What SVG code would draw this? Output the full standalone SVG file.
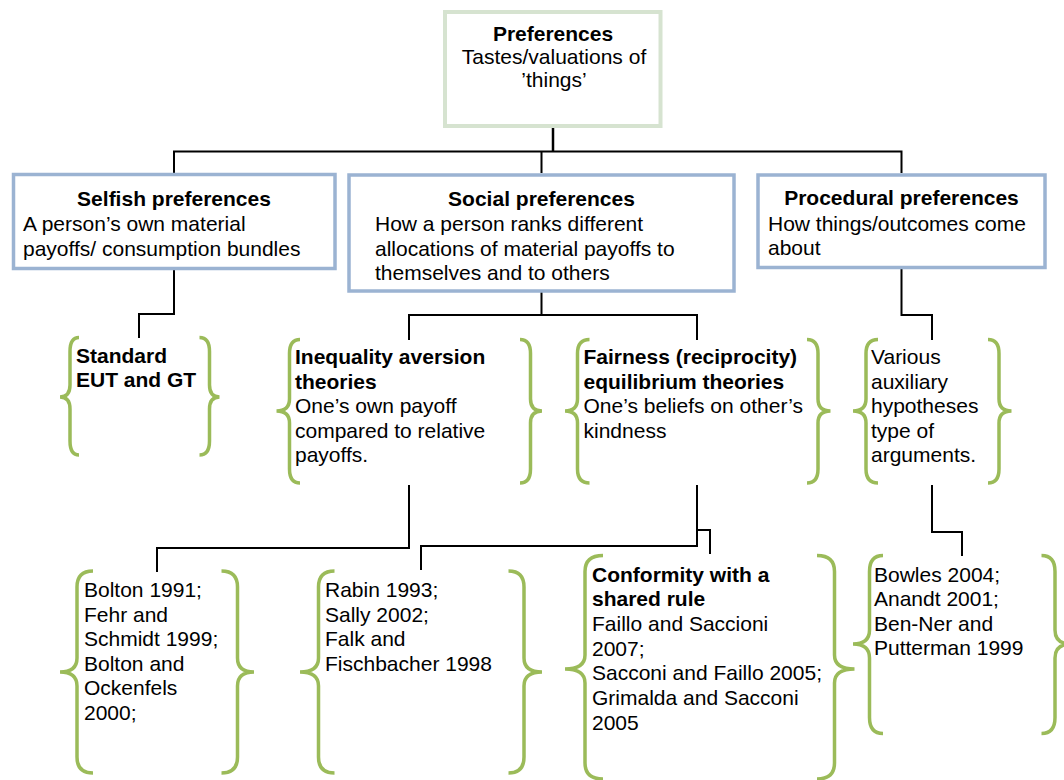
<svg xmlns="http://www.w3.org/2000/svg" width="1064" height="780" viewBox="0 0 1064 780">
<style>
text{font-family:"Liberation Sans",Arial,sans-serif;font-size:21px;fill:#000}
.b{font-weight:bold}
.m{text-anchor:middle}
.box{fill:#fff;stroke:#9bb3d2;stroke-width:3.5}
.root{fill:#fff;stroke:#d6e3d0;stroke-width:4}
.br{fill:none;stroke:#9bbb59;stroke-width:3.5;stroke-linecap:butt}
.c{fill:none;stroke:#000;stroke-width:2}
</style>
<rect width="1064" height="780" fill="#fff"/>
<g id="connectors">
<path class="c" style="stroke-width:2.5" d="M553,127 V151.5"/>
<path class="c" d="M174,173 V151.5 H901.5 V173 M541.5,151.5 V173"/>
<path class="c" d="M174,270 V314 H139 V338"/>
<path class="c" d="M541.5,292 V315 M409,340 V315 H697 V340"/>
<path class="c" d="M901.5,269 V315 H932 V340"/>
<path class="c" d="M409,485 V548 H157 V572"/>
<path class="c" d="M697,485 V546 H421 V570"/>
<path class="c" d="M697,530 H710 V554"/>
<path class="c" d="M932,485 V532 H962 V556"/>
</g>
<g id="preferences">
<rect class="root" x="445" y="12" width="215.5" height="114"/>
<text class="b m" x="553" y="41">Preferences</text>
<text class="m" x="554" y="64">Tastes/valuations of</text>
<text class="m" x="554" y="87">’things’</text>
</g>
<g id="selfish">
<rect class="box" x="13.5" y="174.5" width="321.5" height="94"/>
<text class="b m" x="174" y="206">Selfish preferences</text>
<text x="23" y="231">A person’s own material</text>
<text x="23" y="255.5">payoffs/ consumption bundles</text>
</g>
<g id="social">
<rect class="box" x="349" y="175" width="385" height="116"/>
<text class="b m" x="541.5" y="206">Social preferences</text>
<text x="375" y="231">How a person ranks different</text>
<text x="375" y="255.5">allocations of material payoffs to</text>
<text x="375" y="280">themselves and to others</text>
</g>
<g id="procedural">
<rect class="box" x="758" y="175" width="287" height="92.5"/>
<text class="b m" x="901.5" y="205">Procedural preferences</text>
<text x="768" y="230.5">How things/outcomes come</text>
<text x="768" y="255">about</text>
</g>
<g id="standard">
<path class="br" d="M79,337.5 Q70,337.5 70,351.5 V385 Q70,397 60,397 Q70,397 70,409 V441 Q70,455 79,455"/>
<path class="br" d="M199.5,337.5 Q209.5,337.5 209.5,351.5 V385 Q209.5,397 219.5,397 Q209.5,397 209.5,409 V441 Q209.5,455 199.5,455"/>
<text class="b" x="76" y="363">Standard</text>
<text class="b" x="76" y="387">EUT and GT</text>
</g>
<g id="inequality">
<path class="br" d="M300,339.5 Q289.5,339.5 289.5,353.5 V399 Q289.5,411 276.5,411 Q289.5,411 289.5,423 V469 Q289.5,483 300,483"/>
<path class="br" d="M520,339.5 Q530.5,339.5 530.5,353.5 V399 Q530.5,411 542,411 Q530.5,411 530.5,423 V469 Q530.5,483 520,483"/>
<text class="b" x="295" y="364">Inequality aversion</text>
<text class="b" x="295" y="388.5">theories</text>
<text x="295" y="413">One’s own payoff</text>
<text x="295" y="437.5">compared to relative</text>
<text x="295" y="462">payoffs.</text>
</g>
<g id="fairness">
<path class="br" d="M589.5,339.5 Q577.5,339.5 577.5,353.5 V399 Q577.5,411 565,411 Q577.5,411 577.5,423 V469 Q577.5,483 589.5,483"/>
<path class="br" d="M807,339.5 Q818,339.5 818,353.5 V399 Q818,411 830.5,411 Q818,411 818,423 V469 Q818,483 807,483"/>
<text class="b" x="583.5" y="364">Fairness (reciprocity)</text>
<text class="b" x="583.5" y="388.5">equilibrium theories</text>
<text x="583.5" y="413">One’s beliefs on other’s</text>
<text x="583.5" y="437.5">kindness</text>
</g>
<g id="various">
<path class="br" d="M878,339.5 Q866,339.5 866,353.5 V399 Q866,411 853,411 Q866,411 866,423 V469 Q866,483 878,483"/>
<path class="br" d="M988,339.5 Q999,339.5 999,353.5 V399 Q999,411 1011.5,411 Q999,411 999,423 V469 Q999,483 988,483"/>
<text x="871" y="364">Various</text>
<text x="871" y="388.5">auxiliary</text>
<text x="871" y="413">hypotheses</text>
<text x="871" y="437.5">type of</text>
<text x="871" y="462">arguments.</text>
</g>
<g id="bolton">
<path class="br" d="M93,571 Q77,571 77,587 V658 Q77,672 60,672 Q77,672 77,686 V757 Q77,773 93,773"/>
<path class="br" d="M221.5,571 Q237.5,571 237.5,587 V658 Q237.5,672 254,672 Q237.5,672 237.5,686 V757 Q237.5,773 221.5,773"/>
<text x="84" y="597">Bolton 1991;</text>
<text x="84" y="621.5">Fehr and</text>
<text x="84" y="646">Schmidt 1999;</text>
<text x="84" y="670.5">Bolton and</text>
<text x="84" y="695">Ockenfels</text>
<text x="84" y="719.5">2000;</text>
</g>
<g id="rabin">
<path class="br" d="M334.5,571 Q318.5,571 318.5,587 V658 Q318.5,672 300,672 Q318.5,672 318.5,686 V757 Q318.5,773 334.5,773"/>
<path class="br" d="M508.5,571 Q524,571 524,587 V658 Q524,672 542,672 Q524,672 524,686 V757 Q524,773 508.5,773"/>
<text x="325" y="597">Rabin 1993;</text>
<text x="325" y="621.5">Sally 2002;</text>
<text x="325" y="646">Falk and</text>
<text x="325" y="670.5">Fischbacher 1998</text>
</g>
<g id="conformity">
<path class="br" d="M603,555.5 Q585,555.5 585,571.5 V655 Q585,669 565,669 Q585,669 585,683 V763 Q585,779 603,779"/>
<path class="br" d="M817,555.5 Q834.5,555.5 834.5,571.5 V655 Q834.5,669 854.5,669 Q834.5,669 834.5,683 V763 Q834.5,779 817,779"/>
<text class="b" x="592" y="582">Conformity with a</text>
<text class="b" x="592" y="606">shared rule</text>
<text x="592" y="631">Faillo and Saccioni</text>
<text x="592" y="655.5">2007;</text>
<text x="592" y="680">Sacconi and Faillo 2005;</text>
<text x="592" y="705">Grimalda and Sacconi</text>
<text x="592" y="729.5">2005</text>
</g>
<g id="bowles">
<path class="br" d="M883,555.5 Q869.5,555.5 869.5,571.5 V630 Q869.5,644 853,644 Q869.5,644 869.5,658 V717.5 Q869.5,733.5 883,733.5"/>
<path class="br" d="M1041.5,555.5 Q1055,555.5 1055,571.5 V630 Q1055,644 1071,644 Q1055,644 1055,658 V717.5 Q1055,733.5 1041.5,733.5"/>
<text x="874" y="582">Bowles 2004;</text>
<text x="874" y="606">Anandt 2001;</text>
<text x="874" y="630.5">Ben-Ner and</text>
<text x="874" y="655">Putterman 1999</text>
</g>
</svg>
